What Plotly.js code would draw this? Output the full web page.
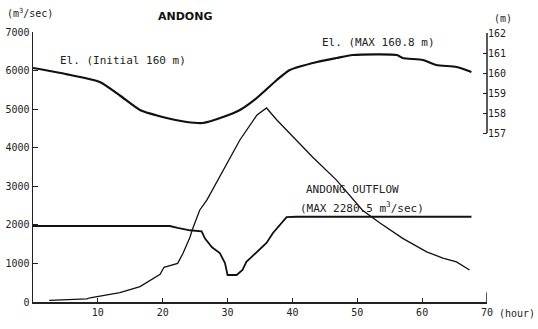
<!DOCTYPE html>
<html>
<head>
<meta charset="utf-8">
<script src="https://cdn.plot.ly/plotly-3.0.1.min.js"></script>
<style>html,body{margin:0;padding:0;background:#fff}#chart{width:538px;height:329px}</style>
</head>
<body>
<div id="chart"></div>
<script>
// Inflow (m3/sec) vs hour
const inflowHours = [2.5, 5, 8.3, 8.8, 13.4, 16.5, 18.0, 19.6, 20.2, 21.6, 22.3, 23.1, 24.2, 24.7, 25.7, 26.8, 29.9, 31.9, 34.5, 36.0, 37.6, 43.1, 46.8, 50.8, 53.5, 57.0, 60.7, 63.2, 65.3, 67.3];
const inflowValues = [40, 60, 80, 110, 240, 400, 550, 720, 900, 960, 1000, 1250, 1680, 1940, 2380, 2640, 3600, 4200, 4840, 5030, 4720, 3760, 3160, 2380, 2050, 1650, 1300, 1140, 1040, 830];

// Andong outflow (m3/sec) vs hour
const outflowHours = [0, 21.1, 22.3, 24.2, 26.0, 26.5, 27.6, 28.8, 29.6, 30.0, 31.4, 32.3, 32.9, 34.5, 36.0, 37.0, 37.7, 39.1, 40.6, 67.6];
const outflowValues = [1970, 1970, 1920, 1860, 1830, 1650, 1420, 1270, 1010, 700, 700, 830, 1040, 1300, 1530, 1790, 1920, 2200, 2210, 2210];

// Reservoir elevation (m) vs hour
const elevHours = [0, 5, 10.3, 13.5, 16.5, 20.6, 23.7, 26.2, 29.3, 31.9, 34.5, 37.6, 39.6, 43.8, 46.8, 49.3, 56.1, 57.0, 60.1, 62.2, 65.3, 67.6];
const elevValues = [160.25, 159.95, 159.55, 158.85, 158.15, 157.75, 157.55, 157.5, 157.8, 158.15, 158.75, 159.65, 160.15, 160.55, 160.75, 160.9, 160.9, 160.75, 160.65, 160.4, 160.3, 160.05];

const xTicks = [10, 20, 30, 40, 50, 60, 70];
const yTicks = [0, 1000, 2000, 3000, 4000, 5000, 6000, 7000];
const y2Ticks = [157, 158, 159, 160, 161, 162];

const mono = "DejaVu Sans Mono, Liberation Mono, monospace";

const traces = [
  {x: inflowHours, y: inflowValues, type: 'scatter', mode: 'lines', line: {color: '#111', width: 1.3}, hoverinfo: 'skip'},
  {x: outflowHours, y: outflowValues, type: 'scatter', mode: 'lines', line: {color: '#111', width: 1.8}, hoverinfo: 'skip'},
  {x: elevHours, y: elevValues, yaxis: 'y2', type: 'scatter', mode: 'lines', line: {color: '#111', width: 2.2, shape: 'spline', smoothing: 0.6}, hoverinfo: 'skip'}
];

const layout = {
  width: 538, height: 329,
  margin: {l: 33, r: 51, t: 32, b: 27},
  paper_bgcolor: '#fff', plot_bgcolor: '#fff',
  showlegend: false,
  font: {family: mono, size: 10, color: '#222'},
  xaxis: {
    range: [0, 70], tickvals: xTicks, ticks: 'inside', ticklen: 4, tickcolor: '#222',
    showline: true, linecolor: '#222', linewidth: 1.5, showgrid: false, zeroline: false,
    tickfont: {family: mono, size: 10, color: '#222'}
  },
  yaxis: {
    range: [0, 7000], tickvals: yTicks, ticks: 'inside', ticklen: 5, tickcolor: '#222',
    showline: true, linecolor: '#222', linewidth: 1.5, showgrid: false, zeroline: false,
    tickfont: {family: mono, size: 10, color: '#222'}
  },
  yaxis2: {
    overlaying: 'y', side: 'right', range: [148.55, 162.05], tickvals: y2Ticks,
    ticks: 'inside', ticklen: 4, tickcolor: '#222', showline: false, showgrid: false, zeroline: false,
    tickfont: {family: mono, size: 10, color: '#222'}
  },
  shapes: [
    {type: 'line', xref: 'paper', yref: 'y2', x0: 1, x1: 1, y0: 157, y1: 162, line: {color: '#222', width: 1.5}},
    {type: 'line', xref: 'x', yref: 'y', x0: 70, x1: 70, y0: 0, y1: 250, line: {color: '#222', width: 1.5}}
  ],
  annotations: [
    {text: '(m<sup>3</sup>/sec)', xref: 'paper', yref: 'paper', x: -0.062, y: 1.07, xanchor: 'left', yanchor: 'middle', showarrow: false, font: {family: mono, size: 10, color: '#222'}},
    {text: '<b>ANDONG</b>', xref: 'paper', yref: 'paper', x: 0.335, y: 1.056, xanchor: 'center', yanchor: 'middle', showarrow: false, font: {family: 'DejaVu Sans, sans-serif', size: 11, color: '#111'}},
    {text: '(m)', xref: 'paper', yref: 'paper', x: 1.01, y: 1.05, xanchor: 'left', yanchor: 'middle', showarrow: false, font: {family: mono, size: 10, color: '#222'}},
    {text: '(hour)', xref: 'paper', yref: 'paper', x: 1.022, y: -0.042, xanchor: 'left', yanchor: 'middle', showarrow: false, font: {family: mono, size: 10, color: '#222'}},
    {text: 'El. (Initial 160 m)', xref: 'x', yref: 'y', x: 13.9, y: 6250, xanchor: 'center', yanchor: 'middle', showarrow: false, font: {family: mono, size: 11, color: '#222'}},
    {text: 'El. (MAX 160.8 m)', xref: 'x', yref: 'y', x: 53.2, y: 6740, xanchor: 'center', yanchor: 'middle', showarrow: false, font: {family: mono, size: 11, color: '#222'}},
    {text: 'ANDONG OUTFLOW', xref: 'x', yref: 'y', x: 49.3, y: 2700, xanchor: 'center', yanchor: 'bottom', showarrow: false, font: {family: mono, size: 11, color: '#222'}},
    {text: '(MAX 2280.5 m<sup>3</sup>/sec)', xref: 'x', yref: 'y', x: 50.8, y: 2700, xanchor: 'center', yanchor: 'top', showarrow: false, font: {family: mono, size: 11, color: '#222'}}
  ]
};

Plotly.newPlot('chart', traces, layout, {staticPlot: true, displayModeBar: false});
</script>
</body>
</html>
